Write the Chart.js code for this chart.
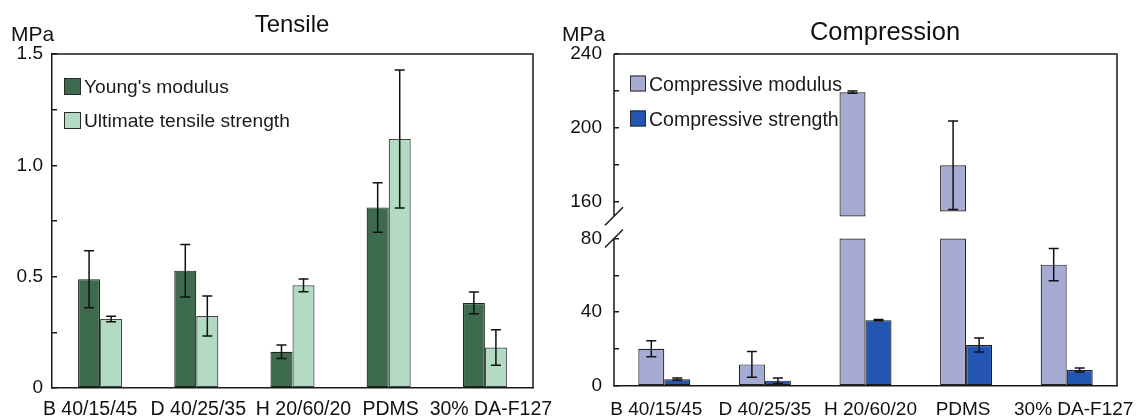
<!DOCTYPE html>
<html>
<head>
<meta charset="utf-8">
<script src="https://cdn.jsdelivr.net/npm/chart.js@4.4.1/dist/chart.umd.min.js"></script>
<style>
  html, body { margin: 0; padding: 0; background: #fff; }
  #wrap { position: relative; width: 1144px; height: 417px; }
  canvas { position: absolute; top: 0; }
  #tensile { left: 0; }
  #compression { left: 560px; }
</style>
</head>
<body>
<div id="wrap">
  <canvas id="tensile" width="560" height="417"></canvas>
  <canvas id="compression" width="584" height="417"></canvas>
</div>
<script>
const categories = ['B 40/15/45', 'D 40/25/35', 'H 20/60/20', 'PDMS', '30% DA-F127'];

// Tensile (MPa)
const youngsModulus = [0.488, 0.527, 0.163, 0.811, 0.382];
const youngsModulusErr = [0.128, 0.118, 0.030, 0.111, 0.049];
const tensileStrength = [0.310, 0.323, 0.461, 1.118, 0.182];
const tensileStrengthErr = [0.012, 0.090, 0.029, 0.310, 0.080];

// Compression (MPa)
const compModulus = [20.2, 11.7, 219.3, 179.7, 65.8];
const compModulusErr = [4.4, 7.0, 0.6, 24.0, 8.8];
const compStrength = [3.7, 2.9, 35.7, 22.2, 8.7];
const compStrengthErr = [0.6, 1.5, 0.3, 3.8, 1.1];
// where a broken modulus bar starts again above the axis break
const compModulusResume = [null, null, 151.9, 154.6, null];

const tensileTickLabels = [0, 0.5, 1.0, 1.5];
const compTicks = [0, 20, 40, 60, 80, 160, 180, 200, 220, 240];
const compTickLabels = [0, 40, 80, 160, 200, 240];

// axis break: everything above 80 is moved down by 60
const BREAK_FROM = 80;
const BREAK_SKIP = 60;
const BREAK_RESUME = 152;
const toAxis = v => (v <= BREAK_FROM ? v : v - BREAK_SKIP);
const fromAxis = v => (v <= BREAK_FROM ? v : v + BREAK_SKIP);

// the category labels in the original sit a little off the bar centres (px)
const tensileLabelNudge = [-10, 2, 11, 2, 6];
const compLabelNudge = [-8, 0, 5, -3, 7];

const FONT = '"Liberation Sans", Arial, sans-serif';
const INK = '#1a1a1a';

const errorBars = {
  id: 'errorBars',
  afterDatasetsDraw(chart, args, opts) {
    const ctx = chart.ctx;
    const y = chart.scales.y;
    const map = opts.toAxis || (v => v);
    ctx.save();
    ctx.strokeStyle = '#111';
    ctx.lineWidth = 1.5;
    chart.data.datasets.forEach((ds, di) => {
      if (!ds.errors) return;
      const meta = chart.getDatasetMeta(di);
      ds.errors.forEach((e, i) => {
        const bar = meta.data[i];
        if (e == null || !bar) return;
        const v = ds.values[i];
        const x = bar.x;
        const y1 = y.getPixelForValue(map(v + e));
        const y2 = y.getPixelForValue(map(v - e));
        ctx.beginPath();
        ctx.moveTo(x, y1); ctx.lineTo(x, y2);
        ctx.moveTo(x - 5, y1); ctx.lineTo(x + 5, y1);
        ctx.moveTo(x - 5, y2); ctx.lineTo(x + 5, y2);
        ctx.stroke();
      });
    });
    ctx.restore();
  }
};

const boxLegend = {
  id: 'boxLegend',
  afterDraw(chart, args, o) {
    const ctx = chart.ctx;
    const a = chart.chartArea;
    const items = chart.data.datasets.filter(d => !d.hideInLegend);
    ctx.save();
    ctx.font = o.fontSize + 'px ' + FONT;
    ctx.textBaseline = 'alphabetic';
    items.forEach((d, i) => {
      const cy = a.top + o.top + i * o.spacing;
      const x = a.left + o.left;
      ctx.fillStyle = d.backgroundColor;
      ctx.fillRect(x, cy - o.box / 2, o.box, o.box);
      ctx.strokeStyle = '#2a2a2a';
      ctx.lineWidth = 1;
      ctx.strokeRect(x + 0.5, cy - o.box / 2 + 0.5, o.box - 1, o.box - 1);
      ctx.fillStyle = INK;
      ctx.fillText(d.label, x + o.box + 3, cy + o.fontSize * 0.36);
    });
    ctx.restore();
  }
};

const frame = {
  id: 'frame',
  afterDraw(chart, args, o) {
    const ctx = chart.ctx;
    const a = chart.chartArea;
    ctx.save();
    ctx.strokeStyle = INK;
    ctx.lineWidth = 1.5;
    ctx.beginPath();
    ctx.moveTo(a.left, a.top);
    ctx.lineTo(a.right, a.top);
    ctx.lineTo(a.right, a.bottom);
    if (o.broken) {
      const y = chart.scales.y;
      const gapTop = y.getPixelForValue(toAxis(BREAK_RESUME));
      const gapBottom = y.getPixelForValue(BREAK_FROM);
      ctx.moveTo(a.left, a.top);
      ctx.lineTo(a.left, gapTop);
      ctx.moveTo(a.left, gapBottom);
      ctx.lineTo(a.left, a.bottom);
      [gapTop, gapBottom].forEach(yc => {
        ctx.moveTo(a.left - 9, yc + 9);
        ctx.lineTo(a.left + 9, yc - 9);
      });
    }
    ctx.stroke();
    ctx.restore();
  }
};

const panelText = {
  id: 'panelText',
  afterDraw(chart, args, o) {
    const ctx = chart.ctx;
    ctx.save();
    ctx.fillStyle = '#111';
    ctx.textBaseline = 'alphabetic';
    ctx.font = o.titleSize + 'px ' + FONT;
    ctx.textAlign = 'center';
    ctx.fillText(o.title, o.titleX, o.titleY);
    ctx.font = '21px ' + FONT;
    ctx.textAlign = 'left';
    ctx.fillText('MPa', o.unitX, o.unitY);
    ctx.restore();
  }
};

// category names under the axis, drawn at the scale's tick positions
const categoryLabels = {
  id: 'categoryLabels',
  afterDraw(chart, args, o) {
    const ctx = chart.ctx;
    const x = chart.scales.x;
    ctx.save();
    ctx.fillStyle = '#111';
    ctx.font = o.fontSize + 'px ' + FONT;
    ctx.textAlign = 'center';
    ctx.textBaseline = 'alphabetic';
    chart.data.labels.forEach((label, i) => {
      ctx.fillText(label, x.getPixelForTick(i) + o.nudge[i], o.baseline);
    });
    ctx.restore();
  }
};

const xAxis = height => ({
  grid: { display: false, drawTicks: false },
  border: { display: true, color: INK, width: 1.5 },
  ticks: { display: false },
  afterFit: s => { s.height = height; }
});

const yGrid = { drawOnChartArea: false, tickLength: -5, color: INK, tickColor: INK, lineWidth: 1.5 };

new Chart(document.getElementById('tensile'), {
  type: 'bar',
  data: {
    labels: categories,
    datasets: [
      { label: "Young's modulus", data: youngsModulus, values: youngsModulus, errors: youngsModulusErr,
        backgroundColor: '#3e6b4e', borderColor: '#222' },
      { label: 'Ultimate tensile strength', data: tensileStrength, values: tensileStrength, errors: tensileStrengthErr,
        backgroundColor: '#b3dbc3', borderColor: '#444' }
    ]
  },
  options: {
    responsive: false,
    animation: false,
    layout: { padding: { left: 0, right: 27, top: 54, bottom: 0 } },
    datasets: { bar: { categoryPercentage: 0.458, barPercentage: 1, borderWidth: 1.2, borderSkipped: false } },
    plugins: {
      legend: { display: false },
      tooltip: { enabled: false },
      errorBars: {},
      frame: {},
      boxLegend: { left: 12, top: 32.5, spacing: 34, box: 17, fontSize: 19.2 },
      panelText: { title: 'Tensile', titleSize: 24, titleX: 292, titleY: 32, unitX: 11, unitY: 40.5 },
      categoryLabels: { fontSize: 19.5, baseline: 415, nudge: tensileLabelNudge }
    },
    scales: {
      x: xAxis(29),
      y: {
        min: 0, max: 1.5,
        ticks: {
          stepSize: 0.25, color: '#111', font: { size: 19, family: FONT }, padding: 14,
          callback: v => (tensileTickLabels.includes(v) ? (v === 0 ? '0' : v.toFixed(1)) : '')
        },
        grid: yGrid,
        border: { display: true, color: INK, width: 1.5 },
        afterFit: s => { s.width = 52; }
      }
    }
  },
  plugins: [errorBars, frame, boxLegend, panelText, categoryLabels]
});

const modulusColor = '#a6abd3';
const strengthColor = '#2356b2';

new Chart(document.getElementById('compression'), {
  type: 'bar',
  data: {
    labels: categories,
    datasets: [
      { label: 'Compressive modulus', stack: 'modulus',
        data: compModulus.map(v => [0, Math.min(v, BREAK_FROM)]),
        values: compModulus, errors: compModulusErr,
        backgroundColor: modulusColor, borderColor: '#222' },
      { label: 'Compressive strength', stack: 'strength',
        data: compStrength, values: compStrength, errors: compStrengthErr,
        backgroundColor: strengthColor, borderColor: '#1a1a1a' },
      { label: 'Compressive modulus (above break)', stack: 'modulus', hideInLegend: true,
        data: compModulus.map((v, i) => compModulusResume[i] == null ? null : [toAxis(compModulusResume[i]), toAxis(v)]),
        backgroundColor: modulusColor, borderColor: '#222' }
    ]
  },
  options: {
    responsive: false,
    animation: false,
    layout: { padding: { left: 0, right: 27, top: 54, bottom: 0 } },
    datasets: { bar: { categoryPercentage: 0.517, barPercentage: 1, borderWidth: 1.2, borderSkipped: false } },
    plugins: {
      legend: { display: false },
      tooltip: { enabled: false },
      errorBars: { toAxis },
      frame: { broken: true },
      boxLegend: { left: 16, top: 29.5, spacing: 35, box: 16, fontSize: 19.5 },
      panelText: { title: 'Compression', titleSize: 25.5, titleX: 325, titleY: 39.5, unitX: 2, unitY: 40.5 },
      categoryLabels: { fontSize: 19, baseline: 415, nudge: compLabelNudge }
    },
    scales: {
      x: Object.assign(xAxis(31), { stacked: true }),
      y: {
        stacked: false,
        min: 0, max: toAxis(240),
        afterBuildTicks: s => { s.ticks = compTicks.map(v => ({ value: toAxis(v) })); },
        ticks: {
          color: '#111', font: { size: 19, family: FONT }, padding: 17,
          callback: v => (compTickLabels.includes(fromAxis(v)) ? String(fromAxis(v)) : '')
        },
        grid: yGrid,
        border: { display: false },
        afterFit: s => { s.width = 54; }
      }
    }
  },
  plugins: [errorBars, frame, boxLegend, panelText, categoryLabels]
});
</script>
</body>
</html>
